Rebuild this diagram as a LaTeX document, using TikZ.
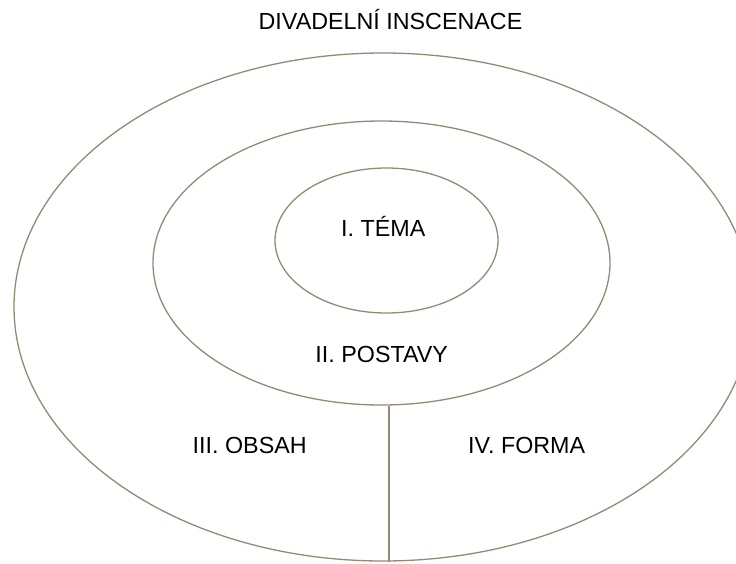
\documentclass[tikz,border=0pt]{standalone}
\usepackage{fontspec}
\setmainfont{Liberation Sans}
\usetikzlibrary{shapes.geometric}
\definecolor{ringcol}{RGB}{150,137,116}

\begin{document}
\begin{tikzpicture}[x=1pt,y=-1pt,
  ring/.style={draw=ringcol,line width=1.3pt,ellipse,inner sep=0pt},
  lbl/.style={anchor=base,font=\fontsize{23.3}{28}\selectfont,text=black}]
\useasboundingbox (0,0) rectangle (736,563);
\node[ring,minimum width=738pt,minimum height=508pt] (outring) at (383,307) {};
\node[ring,minimum width=457pt,minimum height=284pt] (midring) at (381.5,263) {};
\node[ring,minimum width=223pt,minimum height=145pt] (inring) at (386.5,240.5) {};
\coordinate (cut) at (389,0);
\draw[draw=ringcol,line width=1.3pt] (cut |- midring.south) -- (cut |- outring.south);
\node[lbl] (title) at (390.5,29) {DIVADELNÍ INSCENACE};
\node[lbl] (tema) at (383.3,236) {I. TÉMA};
\node[lbl] (postavy) at (381.7,362) {II. POSTAVY};
\node[lbl] (obsah) at (249.7,453) {III. OBSAH};
\node[lbl] (forma) at (526.7,453) {IV. FORMA};
\end{tikzpicture}
\end{document}
